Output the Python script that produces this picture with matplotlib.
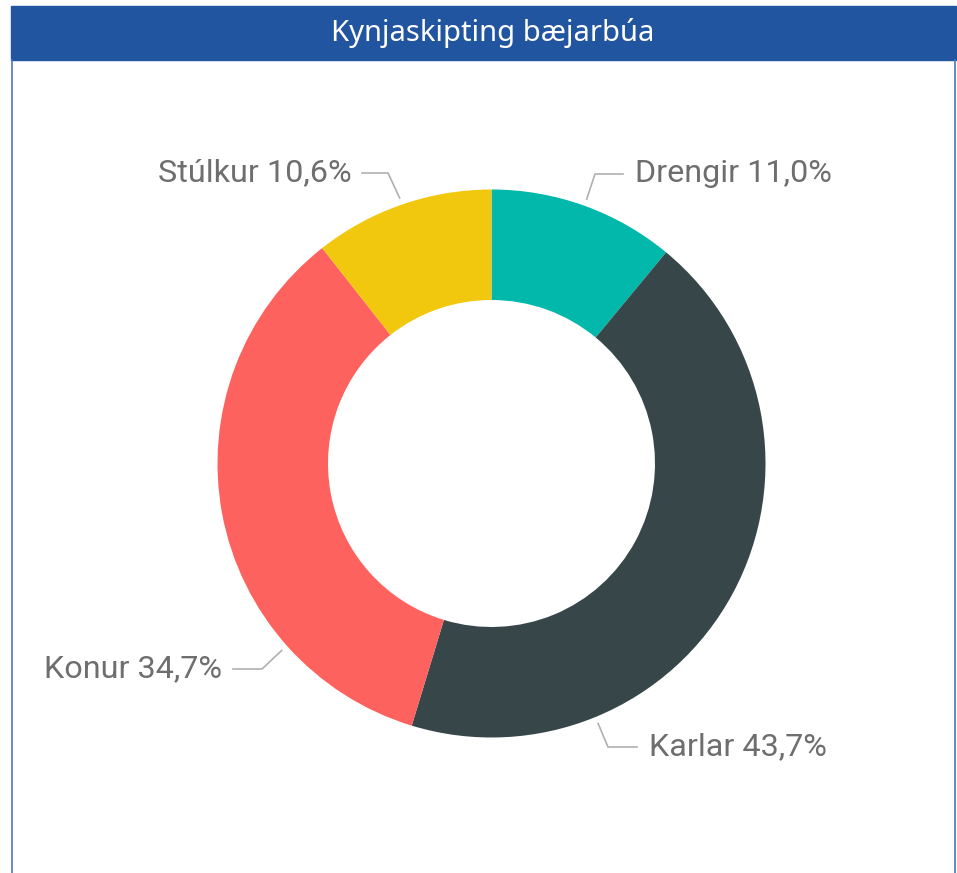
import matplotlib
matplotlib.use("Agg")
import matplotlib.pyplot as plt
import numpy as np
from matplotlib.patches import Rectangle

# ---- data ----
TITLE = "Kynjaskipting bæjarbúa"
CATEGORIES = ["Drengir", "Karlar", "Konur", "Stúlkur"]
SHARES = [11.0, 43.7, 34.7, 10.6]
COLORS = ["#01B8AA", "#374649", "#FD625E", "#F2C80F"]

# ---- layout (pixel coords, y down) ----
W, H = 957, 873
CENTER = (491.5, 463.5)
R_OUT, R_IN = 274, 163.5
# leader start angle (deg clockwise from top), elbow point, end x, text x, side
LEADERS = {
    "Drengir": dict(angle=None, elbow=(595, 174), end_x=623, text_x=635, ha="left"),
    "Karlar": dict(angle=157.7, elbow=(608, 747), end_x=637, text_x=649, ha="left"),
    "Konur": dict(angle=228.3, elbow=(262, 669), end_x=233, text_x=222, ha="right"),
    "Stúlkur": dict(angle=None, elbow=(388, 173), end_x=362, text_x=352, ha="right"),
}
LABEL_COLOR = "#6e6e6e"
LINE_COLOR = "#b0b0b0"


def fmt(v):
    return f"{v:.1f}%".replace(".", ",")


fig = plt.figure(figsize=(W / 100, H / 100), dpi=100)
ax = fig.add_axes([0, 0, 1, 1])

# header bar + frame
ax.add_patch(Rectangle((11, 6), 945, 54, color="#2255A0", zorder=1))
ax.plot([12, 12], [60, H], color="#4a78b8", lw=1.2, zorder=1)
ax.plot([955, 955], [60, H], color="#4a78b8", lw=1.2, zorder=1)
ax.text(493, 33, TITLE, color="white", fontsize=21, family="Noto Sans",
        ha="center", va="center", zorder=2)

# donut (y axis inverted -> counterclock=True draws clockwise on screen)
wedges, _ = ax.pie(SHARES, colors=COLORS, startangle=-90, counterclock=True,
                   center=CENTER, radius=R_OUT,
                   wedgeprops=dict(width=R_OUT - R_IN, edgecolor="none"))

# labels with leader lines
cum = np.cumsum([0] + SHARES[:-1])
for cat, val, c0 in zip(CATEGORIES, SHARES, cum):
    lay = LEADERS[cat]
    ang = lay["angle"] if lay["angle"] is not None else (c0 + val / 2) * 3.6
    a = np.radians(ang)
    r0 = R_OUT + 7
    x0 = CENTER[0] + r0 * np.sin(a)
    y0 = CENTER[1] - r0 * np.cos(a)
    ex, ey = lay["elbow"]
    ax.plot([x0, ex, lay["end_x"]], [y0, ey, ey], color=LINE_COLOR, lw=1.2,
            solid_joinstyle="miter")
    ax.text(lay["text_x"], ey, f"{cat} {fmt(val)}", color=LABEL_COLOR,
            fontsize=23.3, family="Roboto", ha=lay["ha"], va="center")

ax.set_xlim(0, W)
ax.set_ylim(H, 0)
ax.set_aspect("equal")
ax.axis("off")

fig.savefig("out.png", dpi=100, facecolor="white")
